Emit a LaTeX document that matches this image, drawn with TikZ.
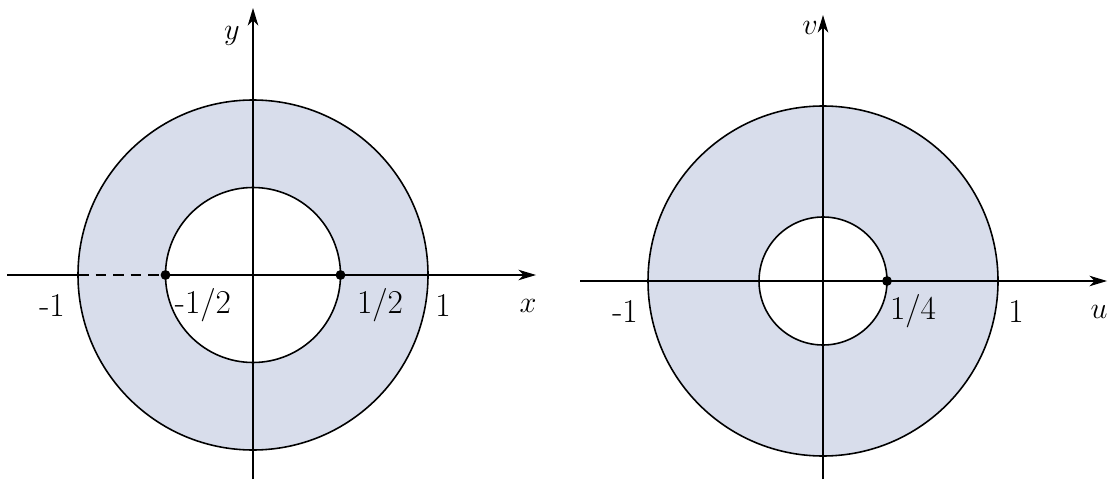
\documentclass[tikz,border=0pt]{standalone}
\usepackage{tikz}
\usetikzlibrary{arrows.meta}
\definecolor{ringfill}{RGB}{216,221,235}
\tikzset{
  axisline/.style={line width=0.7pt,-{Stealth[length=10pt,width=6pt,inset=3pt]}},
  rim/.style={line width=0.9pt},
  tick/.style={font=\fontsize{19}{22}\selectfont},
}

\begin{document}
\begin{tikzpicture}
  \useasboundingbox (0,0) rectangle (22.18,9.58);

  % ── z-plane: ring 1/2 < |z| < 1 ─────────────────────────────────
  \begin{scope}[shift={(5.06,4.08)}]
    \coordinate (O1) at (0,0);
    \coordinate (xl) at (-4.92,0);
    \coordinate (xr) at (5.66,0);
    \coordinate (yb) at (0,-4.08);
    \coordinate (yt) at (0,5.34);
    \coordinate (m1) at (-3.5,0);
    \coordinate (mh) at (-1.75,0);
    \coordinate (ph) at (1.75,0);

    \fill[ringfill, even odd rule] (O1) circle (3.5) (O1) circle (1.75);
    \draw[rim] (O1) circle (3.5);
    \draw[rim] (O1) circle (1.75);

    \draw[line width=0.7pt] (xl) -- (m1);
    \draw[line width=0.7pt, dash pattern=on 6pt off 4pt] (m1) -- (mh);
    \draw[axisline] (mh) -- (xr);
    \draw[axisline] (yb) -- (yt);

    \fill (mh) circle (2.8pt);
    \fill (ph) circle (2.8pt);

    \node[tick] (lm1) at (-4.02,-0.6) {-1};
    \node[tick] (lmh) at (-1.0,-0.6)  {-1/2};
    \node[tick] (lph) at (2.54,-0.6)  {1/2};
    \node[tick] (lp1) at (3.8,-0.6)   {1};
    \node[tick] (lx)  at (5.5,-0.62)  {$x$};
    \node[tick] (ly)  at (-0.42,4.78) {$y$};
  \end{scope}

  % ── w-plane: ring 1/4 < |w| < 1 ─────────────────────────────────
  \begin{scope}[shift={(16.46,3.96)}]
    \coordinate (O2) at (0,0);
    \coordinate (ul) at (-4.86,0);
    \coordinate (ur) at (5.68,0);
    \coordinate (vb) at (0,-3.96);
    \coordinate (vt) at (0,5.32);
    \coordinate (pq) at (1.28,0);

    \fill[ringfill, even odd rule] (O2) circle (3.5) (O2) circle (1.28);
    \draw[rim] (O2) circle (3.5);
    \draw[rim] (O2) circle (1.28);

    \draw[axisline] (ul) -- (ur);
    \draw[axisline] (vb) -- (vt);

    \fill (pq) circle (2.8pt);

    \node[tick] (rm1) at (-3.96,-0.6) {-1};
    \node[tick] (rpq) at (1.8,-0.6)   {1/4};
    \node[tick] (rp1) at (3.86,-0.6)  {1};
    \node[tick] (lu)  at (5.52,-0.62) {$u$};
    \node[tick] (lv)  at (-0.26,5.06) {$v$};
  \end{scope}
\end{tikzpicture}
\end{document}
